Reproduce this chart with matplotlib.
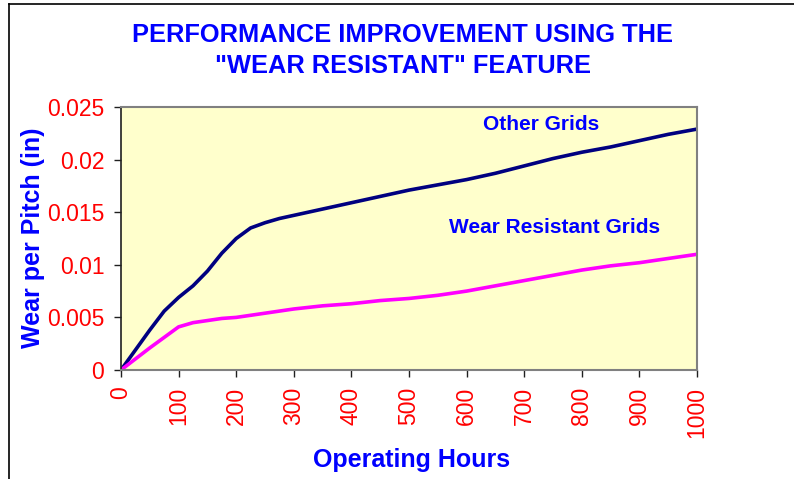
import matplotlib
matplotlib.use("Agg")
import matplotlib.pyplot as plt
from matplotlib.lines import Line2D

plt.rcParams['font.family'] = ['Liberation Sans', 'DejaVu Sans']

hours = [0, 25, 50, 75, 100, 125, 150, 175, 200, 225, 250, 275, 300, 350, 400, 450, 500,
         550, 600, 650, 700, 750, 800, 850, 900, 950, 1000]
other_grids = [0, 0.0019, 0.0038, 0.0056, 0.0069, 0.0080, 0.0094, 0.0111, 0.0125, 0.0135,
               0.0140, 0.0144, 0.0147, 0.0153, 0.0159, 0.0165, 0.0171,
               0.0176, 0.0181, 0.0187, 0.0194, 0.0201, 0.0207, 0.0212, 0.0218, 0.0224, 0.0229]
wear_resistant = [0, 0.00105, 0.0021, 0.0031, 0.0041, 0.0045, 0.0047, 0.0049, 0.0050, 0.0052,
                  0.0054, 0.0056, 0.0058, 0.0061, 0.0063, 0.0066, 0.0068,
                  0.0071, 0.0075, 0.0080, 0.0085, 0.0090, 0.0095, 0.0099, 0.0102, 0.0106, 0.0110]
x_ticks = [0, 100, 200, 300, 400, 500, 600, 700, 800, 900, 1000]
y_ticks = [0, 0.005, 0.01, 0.015, 0.02, 0.025]
y_tick_labels = ['0', '0.005', '0.01', '0.015', '0.02', '0.025']

title = 'PERFORMANCE IMPROVEMENT USING THE\n"WEAR RESISTANT" FEATURE'
blue = '#0000FF'
red = '#FF0000'

fig = plt.figure(figsize=(7.94, 4.79), dpi=100)
ax = fig.add_axes([121/794, 1-370/479, (697-121)/794, (370-107)/479])
ax.set_facecolor('#FFFFCC')

ax.plot(hours, other_grids, color='#000080', lw=2.6, solid_capstyle='round', solid_joinstyle='round')
ax.plot(hours, wear_resistant, color='#FF00FF', lw=2.6, solid_capstyle='round', solid_joinstyle='round')

ax.set_xlim(0, 1000)
ax.set_ylim(0, 0.025)
ax.set_xticks(x_ticks)
ax.set_xticklabels([str(v) for v in x_ticks], rotation=90, color=red, fontsize=16.5)
ax.set_yticks(y_ticks)
ax.set_yticklabels(y_tick_labels, color=red, fontsize=16.5)
ax.tick_params(axis='both', direction='out', length=5, width=1, color='#202020', pad=7)

for s in ['top', 'right', 'bottom']:
    ax.spines[s].set_color('#808080')
    ax.spines[s].set_linewidth(1.5)
ax.spines['left'].set_color('#202020')
ax.spines['left'].set_linewidth(1.2)

ax.text(729, 0.02329, 'Other Grids', color=blue, fontsize=15, fontweight='bold',
        ha='center', va='center')
ax.text(753, 0.0135, 'Wear Resistant Grids', color=blue, fontsize=15, fontweight='bold',
        ha='center', va='center')

fig.text(403/794, 1-50.5/479, title, color=blue, fontsize=18.3, fontweight='bold',
         ha='center', va='center', multialignment='center', linespacing=1.35)
fig.text(412/794, 1-460/479, 'Operating Hours', color=blue, fontsize=18, fontweight='bold',
         ha='center', va='center')
fig.text(33/794, 1-238/479, 'Wear per Pitch (in)', color=blue, fontsize=18, fontweight='bold',
         ha='center', va='center', rotation=90)

# outer chart frame (top and left edges visible)
fig.add_artist(Line2D([9/794, 1.0], [1-4/479, 1-4/479], transform=fig.transFigure, color='black', lw=1.2))
fig.add_artist(Line2D([9/794, 9/794], [0, 1-4/479], transform=fig.transFigure, color='black', lw=1.2))

fig.savefig('out.png', dpi=100)
